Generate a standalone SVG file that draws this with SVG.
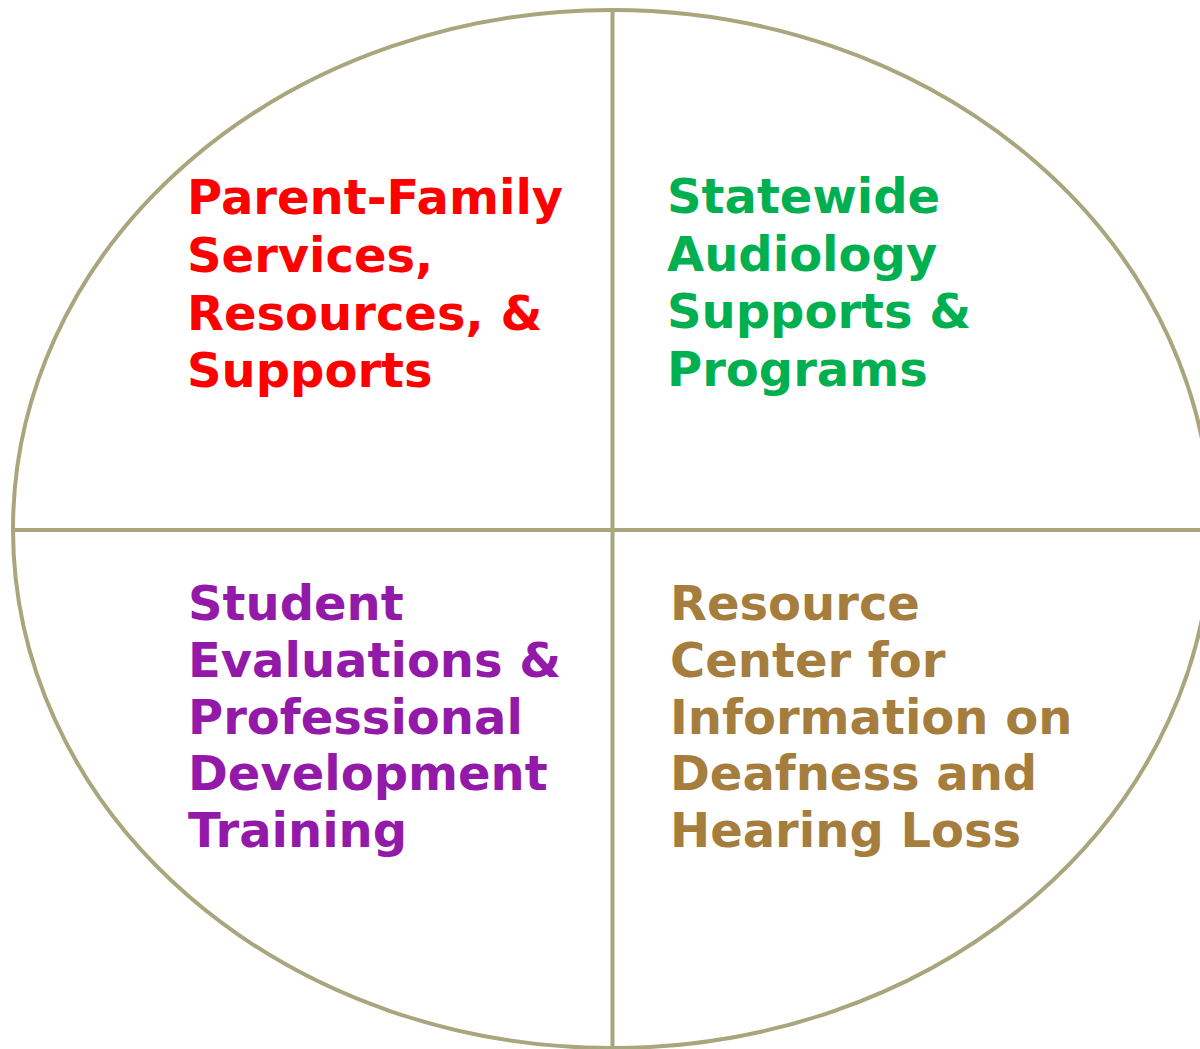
<svg xmlns="http://www.w3.org/2000/svg" width="1200" height="1049" viewBox="0 0 1200 1049">
<style>
.ln{fill:none;stroke:#A9A57C;stroke-width:4}
.t{font-family:"DejaVu Sans","Liberation Sans",sans-serif;font-weight:bold;font-size:48px}
</style>
<rect width="1200" height="1049" fill="#fff"/>
<g id="frame">
<ellipse class="ln" cx="612" cy="529" rx="599" ry="519"/>
</g>
<g id="connectors">
<line class="ln" x1="612.5" y1="10" x2="612.5" y2="1049"/>
<line class="ln" x1="13" y1="530" x2="1200" y2="530"/>
</g>
<g id="parent-family" class="t" fill="#FF0000">
<text x="187" y="214">Parent-Family</text>
<text x="187" y="272">Services,</text>
<text x="187" y="329.5">Resources, &amp;</text>
<text x="187" y="387">Supports</text>
</g>
<g id="audiology" class="t" fill="#00B050">
<text x="667" y="213">Statewide</text>
<text x="667" y="270.5">Audiology</text>
<text x="667" y="328">Supports &amp;</text>
<text x="667" y="385.5">Programs</text>
</g>
<g id="student-eval" class="t" fill="#9319A8">
<text x="188" y="620">Student</text>
<text x="188" y="677">Evaluations &amp;</text>
<text x="188" y="733.5">Professional</text>
<text x="188" y="790">Development</text>
<text x="188" y="847">Training</text>
</g>
<g id="resource-center" class="t" fill="#A57D3D">
<text x="670" y="620">Resource</text>
<text x="670" y="677">Center for</text>
<text x="670" y="733.5">Information on</text>
<text x="670" y="790">Deafness and</text>
<text x="670" y="847">Hearing Loss</text>
</g>
</svg>
